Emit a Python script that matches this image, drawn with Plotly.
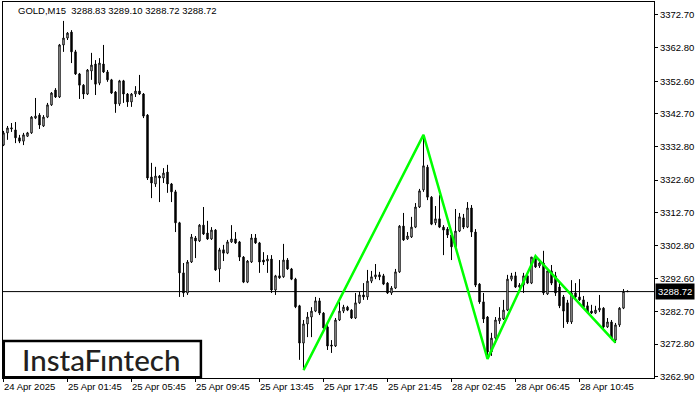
import plotly.graph_objects as go

# ---- data (GOLD, M15) ----
time_labels = ["24 Apr 2025", "25 Apr 01:45", "25 Apr 05:45", "25 Apr 09:45", "25 Apr 13:45",
               "25 Apr 17:45", "25 Apr 21:45", "28 Apr 02:45", "28 Apr 06:45", "28 Apr 10:45"]
label_bars = [0, 16, 32, 48, 64, 80, 96, 112, 128, 144]

opens = [
    3333.2, 3336.9, 3338.1, 3337.8, 3335.4, 3334.4, 3335.9, 3336.9, 3341.4, 3342.3,
    3339.0, 3341.7, 3345.4, 3349.9, 3347.8, 3363.6, 3365.7, 3367.5, 3361.5, 3354.8,
    3351.4, 3348.7, 3355.7, 3357.8, 3352.0, 3357.8, 3355.4, 3353.0, 3349.3, 3345.7,
    3352.7, 3348.7, 3346.3, 3348.7, 3349.6, 3348.7, 3342.3, 3323.5, 3321.4, 3323.8,
    3323.2, 3325.0, 3321.4, 3319.0, 3309.6, 3294.4, 3288.3, 3297.7, 3305.0, 3304.1,
    3308.9, 3306.5, 3304.7, 3307.4, 3295.6, 3301.4, 3300.4, 3303.8, 3304.7, 3303.8,
    3299.2, 3291.6, 3297.7, 3305.0, 3303.5, 3298.3, 3298.0, 3298.6, 3289.2, 3293.5,
    3293.2, 3298.3, 3295.6, 3292.5, 3284.4, 3273.1, 3278.9, 3281.0, 3282.8, 3285.9,
    3282.2, 3278.0, 3272.5, 3272.2, 3280.1, 3282.8, 3284.0, 3283.1, 3280.7, 3285.3,
    3287.7, 3287.1, 3291.9, 3293.2, 3293.8, 3293.5, 3291.3, 3288.3, 3289.8, 3294.7,
    3308.6, 3304.7, 3305.3, 3308.3, 3314.4, 3319.6, 3326.5, 3317.4, 3309.6, 3310.8,
    3308.3, 3307.7, 3305.9, 3302.3, 3307.1, 3311.1, 3308.3, 3314.1, 3306.8, 3291.0,
    3285.6, 3281.0, 3270.4, 3274.6, 3279.8, 3280.4, 3283.1, 3292.5, 3293.5, 3290.1,
    3290.7, 3293.5, 3291.3, 3298.9, 3296.5, 3297.4, 3288.0, 3295.0, 3293.5, 3290.1,
    3287.1, 3285.3, 3279.5, 3288.3, 3287.1, 3286.2, 3284.4, 3282.8, 3282.2, 3283.1,
    3283.7, 3278.0, 3279.5, 3274.0, 3278.6, 3283.7, 3288.83]

highs = [
    3337.5, 3339.0, 3339.9, 3340.2, 3336.3, 3336.9, 3337.2, 3342.0, 3347.5, 3342.9,
    3342.3, 3346.0, 3349.3, 3350.5, 3363.9, 3370.9, 3367.5, 3368.1, 3362.1, 3355.1,
    3351.7, 3356.3, 3361.2, 3359.0, 3359.6, 3363.6, 3356.0, 3353.3, 3349.6, 3353.0,
    3353.0, 3349.0, 3349.0, 3351.1, 3354.5, 3349.0, 3342.6, 3327.8, 3326.6, 3324.1,
    3326.2, 3327.2, 3321.7, 3319.6, 3309.9, 3297.4, 3298.3, 3306.2, 3305.6, 3309.2,
    3314.4, 3310.2, 3308.3, 3307.7, 3302.0, 3302.9, 3304.4, 3308.9, 3306.8, 3304.1,
    3299.5, 3298.3, 3306.2, 3306.2, 3303.8, 3300.7, 3299.8, 3299.8, 3293.8, 3298.3,
    3303.2, 3298.9, 3295.9, 3292.9, 3284.7, 3280.1, 3282.5, 3284.0, 3287.1, 3286.8,
    3282.5, 3278.6, 3274.0, 3280.7, 3285.6, 3284.7, 3284.4, 3283.4, 3288.3, 3288.6,
    3291.3, 3295.3, 3295.0, 3297.1, 3294.7, 3294.1, 3291.6, 3290.4, 3295.6, 3308.9,
    3312.6, 3306.8, 3311.4, 3315.6, 3319.9, 3336.3, 3327.2, 3317.7, 3314.7, 3318.0,
    3308.9, 3308.3, 3306.8, 3313.8, 3312.6, 3312.3, 3315.9, 3315.0, 3307.7, 3291.3,
    3288.3, 3281.3, 3276.2, 3281.0, 3284.0, 3286.2, 3293.8, 3294.4, 3294.7, 3291.3,
    3294.4, 3294.1, 3299.2, 3299.5, 3298.3, 3301.1, 3295.9, 3296.8, 3294.7, 3291.3,
    3287.7, 3286.2, 3292.2, 3291.3, 3292.5, 3287.4, 3285.6, 3284.7, 3284.4, 3287.7,
    3284.0, 3280.7, 3280.1, 3279.2, 3284.0, 3289.5, 3289.10]

lows = [
    3332.9, 3334.8, 3337.2, 3333.8, 3333.8, 3333.2, 3335.7, 3336.6, 3341.1, 3338.1,
    3338.7, 3341.4, 3345.1, 3347.5, 3347.5, 3361.5, 3365.1, 3358.1, 3354.5, 3347.2,
    3347.2, 3348.4, 3353.0, 3348.4, 3351.4, 3355.1, 3352.4, 3348.7, 3343.0, 3345.1,
    3346.0, 3344.8, 3344.8, 3347.8, 3348.4, 3341.4, 3322.6, 3317.1, 3320.5, 3315.9,
    3321.7, 3318.7, 3315.9, 3306.8, 3287.1, 3287.1, 3287.7, 3297.4, 3298.9, 3303.8,
    3305.9, 3304.4, 3304.4, 3295.0, 3291.6, 3298.0, 3300.1, 3303.5, 3303.2, 3298.0,
    3291.3, 3291.3, 3297.4, 3303.2, 3294.4, 3296.8, 3294.4, 3288.3, 3287.7, 3292.6,
    3292.9, 3295.3, 3292.2, 3283.7, 3268.0, 3264.9, 3274.9, 3274.9, 3282.5, 3281.6,
    3277.1, 3271.0, 3270.1, 3271.9, 3279.8, 3282.2, 3282.8, 3280.4, 3280.4, 3285.0,
    3286.2, 3286.2, 3291.3, 3292.5, 3292.2, 3290.7, 3288.0, 3287.7, 3289.5, 3294.4,
    3304.1, 3304.4, 3305.0, 3308.0, 3314.1, 3319.0, 3316.5, 3308.9, 3308.9, 3308.0,
    3299.8, 3305.0, 3298.3, 3302.0, 3306.8, 3307.7, 3308.0, 3305.3, 3290.1, 3285.0,
    3279.2, 3268.3, 3269.2, 3274.0, 3278.9, 3280.1, 3282.8, 3291.9, 3289.8, 3289.5,
    3288.3, 3291.0, 3291.0, 3295.9, 3295.9, 3287.7, 3287.7, 3290.7, 3287.4, 3283.7,
    3277.7, 3278.9, 3278.9, 3286.5, 3285.9, 3283.7, 3282.2, 3281.9, 3281.9, 3282.5,
    3277.4, 3277.7, 3274.0, 3273.1, 3278.0, 3283.4, 3288.72]

closes = [
    3336.9, 3338.4, 3338.4, 3335.4, 3334.4, 3336.3, 3336.9, 3341.7, 3342.0, 3339.3,
    3341.7, 3345.4, 3349.0, 3347.8, 3363.6, 3365.7, 3367.2, 3361.5, 3354.8, 3351.4,
    3348.7, 3356.0, 3357.5, 3351.7, 3358.1, 3355.4, 3353.0, 3349.0, 3345.7, 3352.7,
    3348.7, 3346.3, 3348.7, 3349.6, 3348.7, 3342.0, 3323.2, 3321.7, 3323.8, 3323.2,
    3324.7, 3321.4, 3319.0, 3309.6, 3294.4, 3288.3, 3297.7, 3305.3, 3304.1, 3308.9,
    3306.2, 3304.7, 3307.4, 3295.3, 3301.4, 3300.4, 3303.8, 3304.7, 3303.5, 3299.2,
    3291.6, 3298.0, 3305.0, 3303.5, 3297.7, 3297.7, 3298.6, 3289.2, 3293.5, 3292.9,
    3298.3, 3295.6, 3292.5, 3284.1, 3273.1, 3278.9, 3281.0, 3282.8, 3285.9, 3282.2,
    3277.7, 3272.2, 3272.2, 3280.1, 3282.8, 3284.0, 3283.1, 3280.7, 3285.3, 3287.7,
    3287.1, 3291.9, 3293.2, 3293.8, 3293.2, 3291.0, 3288.3, 3289.8, 3294.7, 3308.6,
    3304.4, 3305.6, 3308.3, 3314.4, 3319.3, 3326.9, 3317.4, 3309.2, 3310.8, 3308.3,
    3307.4, 3305.9, 3302.3, 3307.1, 3311.4, 3308.3, 3314.1, 3306.8, 3290.7, 3285.6,
    3280.4, 3270.4, 3274.6, 3280.1, 3280.7, 3283.1, 3292.5, 3293.5, 3290.1, 3290.7,
    3293.5, 3291.3, 3299.2, 3296.2, 3297.4, 3288.3, 3295.0, 3291.3, 3288.3, 3284.4,
    3282.8, 3279.5, 3288.3, 3287.1, 3286.2, 3284.0, 3282.5, 3282.2, 3283.1, 3283.7,
    3278.0, 3279.5, 3274.6, 3278.6, 3283.7, 3288.8, 3288.72]

# pattern pivots (bar index, price)
pattern_bars = [75, 105, 121, 133, 153]
pattern_prices = [3264.9, 3336.3, 3268.3, 3299.5, 3273.2]

price_ticks = [3372.70, 3362.80, 3352.60, 3342.70, 3332.80, 3322.60,
               3312.70, 3302.80, 3292.60, 3282.70, 3272.80, 3262.90]
last_price = 3288.72
title_text = "GOLD,M15\u00a0\u00a03288.83 3289.10 3288.72 3288.72"
logo_text = "InstaF\u0131ntech"

n = min(len(opens), len(highs), len(lows), len(closes))
bars = list(range(n))

FONT = "Liberation Sans"
FS = 9.5

fig = go.Figure()
fig.add_trace(go.Candlestick(
    x=bars, open=opens[:n], high=highs[:n], low=lows[:n], close=closes[:n],
    increasing=dict(line=dict(color="black", width=1), fillcolor="white"),
    decreasing=dict(line=dict(color="black", width=1), fillcolor="black"),
    whiskerwidth=0, hoverinfo="skip", showlegend=False,
))
fig.add_trace(go.Scatter(
    x=pattern_bars, y=pattern_prices, mode="lines",
    line=dict(color="#00ff00", width=2.5), hoverinfo="skip", showlegend=False,
))

annotations = []
for b, lab in zip(label_bars, time_labels):
    annotations.append(dict(x=b, xref="x", y=0, yref="paper", yanchor="top", xanchor="left",
                            yshift=-1, xshift=-2, text=lab, showarrow=False,
                            font=dict(family=FONT, size=FS, color="black")))
annotations.append(dict(x=0, xref="paper", y=1, yref="paper", xanchor="left", yanchor="top",
                        xshift=13, yshift=-1, text=title_text, showarrow=False,
                        font=dict(family=FONT, size=FS, color="black")))
annotations.append(dict(x=1, xref="paper", y=last_price, yref="y", xanchor="left", yanchor="middle",
                        xshift=1, text=f"{last_price:.2f}", showarrow=False, bgcolor="black",
                        borderpad=2, font=dict(family=FONT, size=FS, color="white")))
annotations.append(dict(x=0.1513, xref="paper", y=0.049, yref="paper", xanchor="center",
                        yanchor="middle", text=logo_text, showarrow=False,
                        font=dict(family="Lato", size=29.5, color="#231f20", weight=500)))

shapes = [
    dict(type="line", xref="paper", x0=0, x1=1, yref="y", y0=last_price, y1=last_price,
         line=dict(color="black", width=1), layer="below"),
    dict(type="rect", xref="paper", yref="paper", x0=0.0012, x1=0.304, y0=0.002, y1=0.0984,
         line=dict(color="black", width=2.5), fillcolor="white", layer="above"),
]

fig.update_layout(
    width=700, height=400,
    margin=dict(l=3, r=46, t=2, b=22, autoexpand=False),
    paper_bgcolor="white", plot_bgcolor="white",
    showlegend=False,
    boxgap=0.5,
    font=dict(family=FONT, size=FS, color="black"),
    annotations=annotations, shapes=shapes,
    xaxis=dict(range=[-0.125, 162.625], showgrid=False, zeroline=False, showline=True,
               linecolor="black", linewidth=1, mirror=True, ticks="outside", ticklen=3,
               tickcolor="black", tickvals=label_bars, showticklabels=False,
               rangeslider=dict(visible=False), fixedrange=True),
    yaxis=dict(side="right", range=[3262.49, 3376.64], showgrid=False, zeroline=False,
               showline=True, linecolor="black", linewidth=1, mirror=True, ticks="outside",
               ticklen=3, tickcolor="black", tickvals=price_ticks,
               ticktext=[f"{v:.2f}" for v in price_ticks],
               tickfont=dict(family=FONT, size=FS, color="black"), fixedrange=True),
)

fig.write_html("out.html", config={"displayModeBar": False},
               post_script="document.body.style.margin='0px';document.body.style.padding='0px';")
